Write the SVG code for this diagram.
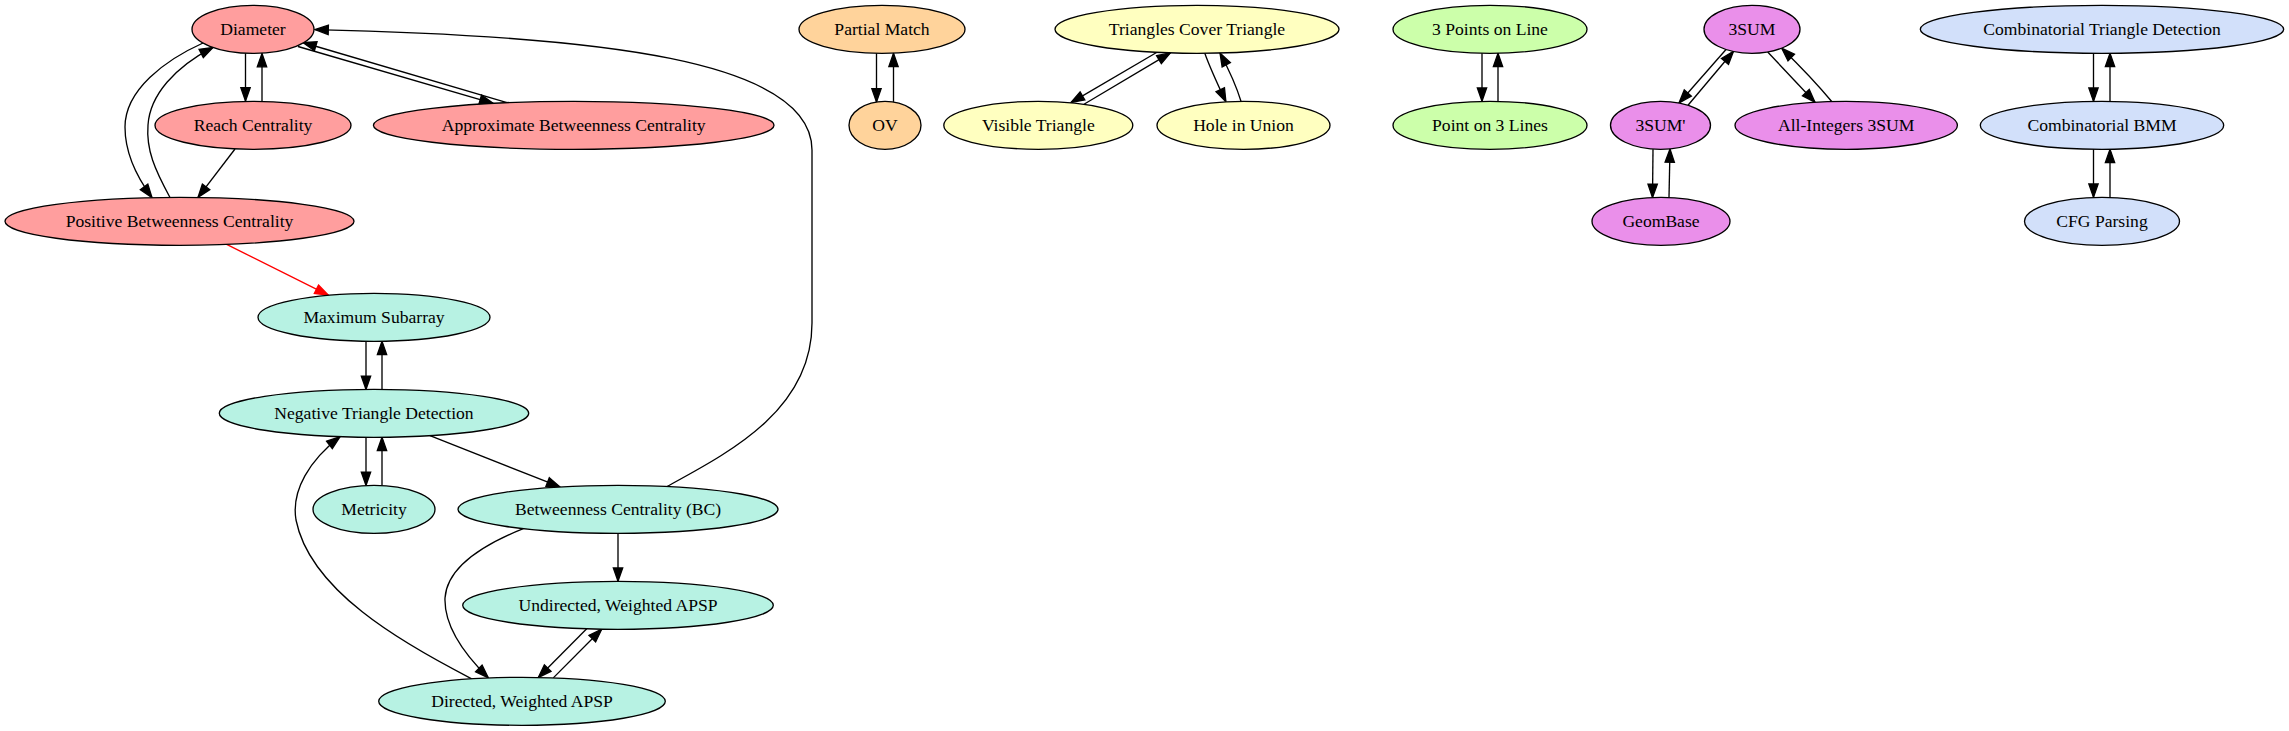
<svg xmlns="http://www.w3.org/2000/svg" width="2289" height="731" viewBox="0 0 2289 731" font-family="'Liberation Serif', 'DejaVu Serif', serif">
<style>
  .n ellipse { stroke: #000; stroke-width: 1.33; }
  .n text { font-family: 'Liberation Serif', 'DejaVu Serif', serif; font-size: 17.6px; fill: #000; text-anchor: middle; }
  .red ellipse { fill: #ff9e9e; }
  .teal ellipse { fill: #b7f2e3; }
  .orange ellipse { fill: #ffd39b; }
  .yellow ellipse { fill: #ffffc0; }
  .green ellipse { fill: #ccffaa; }
  .mag ellipse { fill: #ea8fea; }
  .blue ellipse { fill: #d2e0fa; }
  #edges path { fill: none; stroke: #000; stroke-width: 1.33; marker-end: url(#ah); }
  #edges path.r { stroke: #ff0000; marker-end: url(#ahr); }
</style>
<defs>
  <marker id="ah" markerUnits="userSpaceOnUse" markerWidth="16" markerHeight="12" refX="13.3" refY="4.67" orient="auto" overflow="visible">
    <path d="M0,0 L13.3,4.67 L0,9.33 z" fill="#000" stroke="#000" stroke-width="1.33"/>
  </marker>
  <marker id="ahr" markerUnits="userSpaceOnUse" markerWidth="16" markerHeight="12" refX="13.3" refY="4.67" orient="auto" overflow="visible">
    <path d="M0,0 L13.3,4.67 L0,9.33 z" fill="#ff0000" stroke="#ff0000" stroke-width="1.33"/>
  </marker>
</defs>
<rect width="2289" height="731" fill="#fff"/>

<g id="edges">
  <path d="M245.5,53.3 L245.5,101"/>
  <path d="M262,101.2 L262,53.5"/>
  <path d="M203,43 C165,60 125,90 125,127 C125,152 136,176 152,197.6"/>
  <path d="M170,197.5 C155,170 146,150 148,125 C150,95 175,67 213,47.4"/>
  <path d="M235,149 L198,197.4"/>
  <path d="M298,46.5 L493,103.3"/>
  <path d="M507,102.7 L303,42.5"/>
  <path d="M667,486.5 C730,452 812,410 812,323 L812,150 C812,60 600,36 315,29.6"/>
  <path class="r" d="M226.7,244.4 L328.3,295.2"/>
  <path d="M366,341.2 L366,389.4"/>
  <path d="M382,389.4 L382,341.3"/>
  <path d="M366,437.2 L366,485.4"/>
  <path d="M382,485.4 L382,437.2"/>
  <path d="M430,435.7 L560,486.9"/>
  <path d="M618,533.3 L618,581.3"/>
  <path d="M586.7,628.8 L538.3,677.5"/>
  <path d="M553.3,677.9 L601.7,629.2"/>
  <path d="M523.3,528.7 C480,546 447,568 445,598 C444,625 462,652 488.3,677.8"/>
  <path d="M471.7,678.8 C400,642 310,590 296,520 C291,490 310,460 340,436.8"/>
  <path d="M876.5,53.3 L876.5,101.9"/>
  <path d="M893.5,101.9 L893.5,53.3"/>
  <path d="M1157,52.3 L1071,102.6"/>
  <path d="M1084,104.3 L1170.4,52.9"/>
  <path d="M1204.8,53.2 C1210,68 1218,85 1225.9,101.8"/>
  <path d="M1241,101.3 C1236,85 1228,68 1220,53"/>
  <path d="M1482,53.3 L1482,101.2"/>
  <path d="M1498,101.2 L1498,53.3"/>
  <path d="M1726,49.5 L1679,103"/>
  <path d="M1688,105.3 L1733.5,51.3"/>
  <path d="M1767.7,52 L1815,102.3"/>
  <path d="M1831.7,101.5 C1818,85 1800,66 1781.7,48.2"/>
  <path d="M1653,149.2 L1652.5,197.5"/>
  <path d="M1669,197.5 L1670,149"/>
  <path d="M2093.5,53.3 L2093.5,101.2"/>
  <path d="M2110,101.2 L2110,53.3"/>
  <path d="M2093.5,149.3 L2093.5,197.2"/>
  <path d="M2110,197.2 L2110,149.3"/>
</g>

<g id="n-diameter" class="n red"><ellipse cx="253" cy="29.3" rx="61" ry="24"/><text x="253" y="35.3" font-family="Liberation Serif, serif">Diameter</text></g>
<g id="n-reach" class="n red"><ellipse cx="253" cy="125.3" rx="98" ry="24"/><text x="253" y="131.3" font-family="Liberation Serif, serif">Reach Centrality</text></g>
<g id="n-approxbc" class="n red"><ellipse cx="573.7" cy="125.3" rx="200.3" ry="24"/><text x="573.7" y="131.3" font-family="Liberation Serif, serif">Approximate Betweenness Centrality</text></g>
<g id="n-posbc" class="n red"><ellipse cx="179.5" cy="221.3" rx="174.5" ry="24"/><text x="179.5" y="227.3" font-family="Liberation Serif, serif">Positive Betweenness Centrality</text></g>

<g id="n-maxsub" class="n teal"><ellipse cx="374" cy="317.3" rx="116" ry="24"/><text x="374" y="323.3" font-family="Liberation Serif, serif">Maximum Subarray</text></g>
<g id="n-negtri" class="n teal"><ellipse cx="374" cy="413.3" rx="154.7" ry="24"/><text x="374" y="419.3" font-family="Liberation Serif, serif">Negative Triangle Detection</text></g>
<g id="n-metricity" class="n teal"><ellipse cx="374" cy="509.3" rx="61" ry="24"/><text x="374" y="515.3" font-family="Liberation Serif, serif">Metricity</text></g>
<g id="n-bc" class="n teal"><ellipse cx="618" cy="509.3" rx="160" ry="24"/><text x="618" y="515.3" font-family="Liberation Serif, serif">Betweenness Centrality (BC)</text></g>
<g id="n-uapsp" class="n teal"><ellipse cx="618" cy="605.3" rx="155.3" ry="24"/><text x="618" y="611.3" font-family="Liberation Serif, serif">Undirected, Weighted APSP</text></g>
<g id="n-dapsp" class="n teal"><ellipse cx="522" cy="701.3" rx="143.3" ry="24"/><text x="522" y="707.3" font-family="Liberation Serif, serif">Directed, Weighted APSP</text></g>

<g id="n-partial" class="n orange"><ellipse cx="882" cy="29.3" rx="83" ry="24"/><text x="882" y="35.3" font-family="Liberation Serif, serif">Partial Match</text></g>
<g id="n-ov" class="n orange"><ellipse cx="885" cy="125.3" rx="36" ry="24"/><text x="885" y="131.3" font-family="Liberation Serif, serif">OV</text></g>

<g id="n-tct" class="n yellow"><ellipse cx="1197" cy="29.3" rx="142" ry="24"/><text x="1197" y="35.3" font-family="Liberation Serif, serif">Triangles Cover Triangle</text></g>
<g id="n-visible" class="n yellow"><ellipse cx="1038.3" cy="125.3" rx="94.5" ry="24"/><text x="1038.3" y="131.3" font-family="Liberation Serif, serif">Visible Triangle</text></g>
<g id="n-hole" class="n yellow"><ellipse cx="1243.5" cy="125.3" rx="86.5" ry="24"/><text x="1243.5" y="131.3" font-family="Liberation Serif, serif">Hole in Union</text></g>

<g id="n-3pts" class="n green"><ellipse cx="1490" cy="29.3" rx="97" ry="24"/><text x="1490" y="35.3" font-family="Liberation Serif, serif">3 Points on Line</text></g>
<g id="n-pt3" class="n green"><ellipse cx="1490" cy="125.3" rx="97" ry="24"/><text x="1490" y="131.3" font-family="Liberation Serif, serif">Point on 3 Lines</text></g>

<g id="n-3sum" class="n mag"><ellipse cx="1752" cy="29.3" rx="48" ry="24"/><text x="1752" y="35.3" font-family="Liberation Serif, serif">3SUM</text></g>
<g id="n-3sump" class="n mag"><ellipse cx="1660.5" cy="125.3" rx="50" ry="24"/><text x="1660.5" y="131.3" font-family="Liberation Serif, serif">3SUM'</text></g>
<g id="n-allint" class="n mag"><ellipse cx="1846.2" cy="125.3" rx="111.2" ry="24"/><text x="1846.2" y="131.3" font-family="Liberation Serif, serif">All-Integers 3SUM</text></g>
<g id="n-geombase" class="n mag"><ellipse cx="1661" cy="221.3" rx="69" ry="24"/><text x="1661" y="227.3" font-family="Liberation Serif, serif">GeomBase</text></g>

<g id="n-ctd" class="n blue"><ellipse cx="2102" cy="29.3" rx="181.7" ry="24"/><text x="2102" y="35.3" font-family="Liberation Serif, serif">Combinatorial Triangle Detection</text></g>
<g id="n-cbmm" class="n blue"><ellipse cx="2102" cy="125.3" rx="121.7" ry="24"/><text x="2102" y="131.3" font-family="Liberation Serif, serif">Combinatorial BMM</text></g>
<g id="n-cfg" class="n blue"><ellipse cx="2102" cy="221.3" rx="77.5" ry="24"/><text x="2102" y="227.3" font-family="Liberation Serif, serif">CFG Parsing</text></g>
</svg>
